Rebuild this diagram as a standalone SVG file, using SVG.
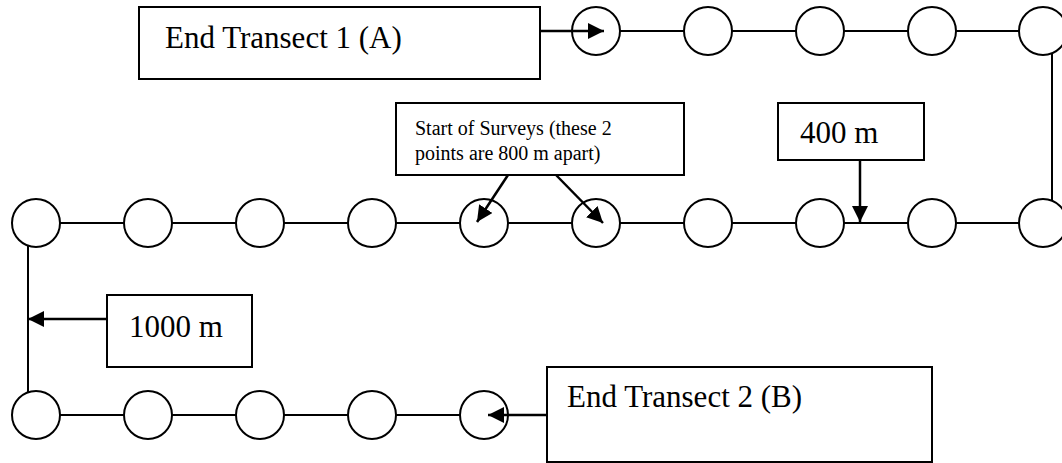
<svg xmlns="http://www.w3.org/2000/svg" width="1062" height="463" viewBox="0 0 1062 463">
  <style>
    .pt { fill: #fff; stroke: #000; stroke-width: 2; }
    .box { fill: #fff; stroke: #000; stroke-width: 2; }
    .link { stroke: #000; stroke-width: 2; fill: none; }
    .ptr { stroke: #000; stroke-width: 2.5; fill: none; marker-end: url(#head); }
    .lbl { font-family: "Liberation Serif", "Times New Roman", serif; fill: #000; }
    .big { font-size: 31px; }
    .small { font-size: 20px; }
  </style>
  <defs>
    <marker id="head" markerUnits="userSpaceOnUse" markerWidth="17" markerHeight="16" refX="16" refY="8" orient="auto">
      <path d="M0,0 L16,8 L0,16 Z" fill="#000"/>
    </marker>
  </defs>
  <rect width="1062" height="463" fill="#fff"/>

  <!-- transect lines between survey points -->
  <g id="connectors">
    <!-- top row -->
    <line class="link" x1="620" y1="31" x2="684" y2="31"/>
    <line class="link" x1="732" y1="31" x2="796" y2="31"/>
    <line class="link" x1="844" y1="31" x2="908" y2="31"/>
    <line class="link" x1="956" y1="31" x2="1019" y2="31"/>
    <!-- right turn -->
    <line class="link" x1="1052" y1="53" x2="1052" y2="201"/>
    <!-- middle row -->
    <line class="link" x1="60" y1="223" x2="124" y2="223"/>
    <line class="link" x1="172" y1="223" x2="236" y2="223"/>
    <line class="link" x1="284" y1="223" x2="348" y2="223"/>
    <line class="link" x1="396" y1="223" x2="460" y2="223"/>
    <line class="link" x1="508" y1="223" x2="572" y2="223"/>
    <line class="link" x1="620" y1="223" x2="684" y2="223"/>
    <line class="link" x1="732" y1="223" x2="796" y2="223"/>
    <line class="link" x1="844" y1="223" x2="908" y2="223"/>
    <line class="link" x1="956" y1="223" x2="1019" y2="223"/>
    <!-- left turn -->
    <line class="link" x1="28" y1="245" x2="28" y2="393"/>
    <!-- bottom row -->
    <line class="link" x1="60" y1="415" x2="124" y2="415"/>
    <line class="link" x1="172" y1="415" x2="236" y2="415"/>
    <line class="link" x1="284" y1="415" x2="348" y2="415"/>
    <line class="link" x1="396" y1="415" x2="460" y2="415"/>
  </g>

  <!-- survey points -->
  <g id="row-top">
    <circle id="t1" class="pt" cx="596" cy="31" r="24"/>
    <circle id="t2" class="pt" cx="708" cy="31" r="24"/>
    <circle id="t3" class="pt" cx="820" cy="31" r="24"/>
    <circle id="t4" class="pt" cx="932" cy="31" r="24"/>
    <circle id="t5" class="pt" cx="1043" cy="31" r="24"/>
  </g>
  <g id="row-middle">
    <circle id="m1" class="pt" cx="36" cy="223" r="24"/>
    <circle id="m2" class="pt" cx="148" cy="223" r="24"/>
    <circle id="m3" class="pt" cx="260" cy="223" r="24"/>
    <circle id="m4" class="pt" cx="372" cy="223" r="24"/>
    <circle id="m5" class="pt" cx="484" cy="223" r="24"/>
    <circle id="m6" class="pt" cx="596" cy="223" r="24"/>
    <circle id="m7" class="pt" cx="708" cy="223" r="24"/>
    <circle id="m8" class="pt" cx="820" cy="223" r="24"/>
    <circle id="m9" class="pt" cx="932" cy="223" r="24"/>
    <circle id="m10" class="pt" cx="1043" cy="223" r="24"/>
  </g>
  <g id="row-bottom">
    <circle id="b1" class="pt" cx="36" cy="415" r="24"/>
    <circle id="b2" class="pt" cx="148" cy="415" r="24"/>
    <circle id="b3" class="pt" cx="260" cy="415" r="24"/>
    <circle id="b4" class="pt" cx="372" cy="415" r="24"/>
    <circle id="b5" class="pt" cx="484" cy="415" r="24"/>
  </g>

  <!-- label boxes -->
  <g id="end-transect-1">
    <rect class="box" x="139" y="7" width="401" height="72"/>
    <text class="lbl big" x="165" y="48">End Transect 1 (A)</text>
  </g>
  <g id="start-of-surveys">
    <rect class="box" x="396" y="103" width="288" height="72"/>
    <text class="lbl small" x="415" y="135">Start of Surveys (these 2</text>
    <text class="lbl small" x="415" y="160">points are 800 m apart)</text>
  </g>
  <g id="dist-400">
    <rect class="box" x="778" y="103" width="146" height="57"/>
    <text class="lbl big" x="800" y="143">400 m</text>
  </g>
  <g id="dist-1000">
    <rect class="box" x="107" y="295" width="145" height="72"/>
    <text class="lbl big" x="129" y="337">1000 m</text>
  </g>
  <g id="end-transect-2">
    <rect class="box" x="547" y="367" width="385" height="95"/>
    <text class="lbl big" x="567" y="407">End Transect 2 (B)</text>
  </g>

  <!-- pointers from labels -->
  <g id="pointers">
    <line class="ptr" x1="540" y1="31" x2="604" y2="31"/>
    <line class="ptr" x1="508" y1="175" x2="477" y2="222"/>
    <line class="ptr" x1="556" y1="175" x2="603" y2="223"/>
    <line class="ptr" x1="860" y1="160" x2="860" y2="222"/>
    <line class="ptr" x1="107" y1="319" x2="28" y2="319"/>
    <line class="ptr" x1="547" y1="415" x2="488" y2="415"/>
  </g>
</svg>
